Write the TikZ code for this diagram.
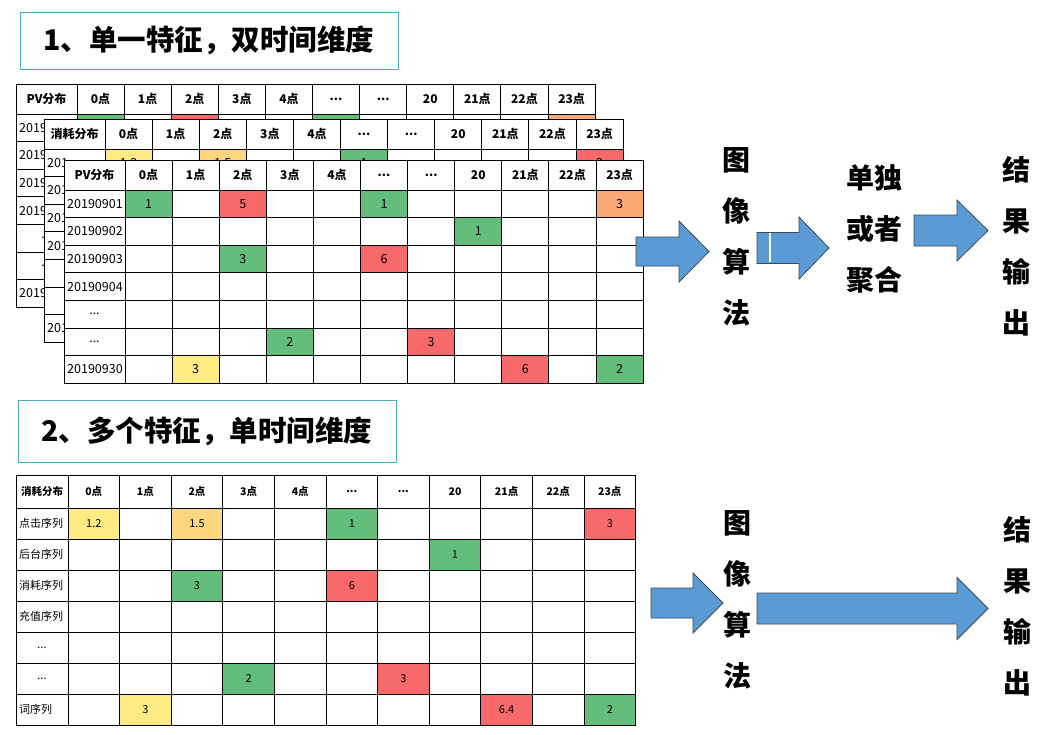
\documentclass[tikz,border=0pt]{standalone}
\usepackage{fontspec}
\setmainfont{Noto Sans CJK SC}
\definecolor{cg}{HTML}{63BE7B}
\definecolor{cr}{HTML}{F8696B}
\definecolor{cy}{HTML}{FFEB84}
\definecolor{co}{HTML}{FBAA77}
\definecolor{cl}{HTML}{FED680}
\definecolor{tealb}{HTML}{4BACC6}
\definecolor{arrowblue}{HTML}{5B9BD5}
\definecolor{arrowline}{HTML}{3B4A5A}
\newcommand{\mydots}{...}
% table drawing: #1 name, #2 x0, #3 y0, #4 header label, #5 row labels, #6 coloured cells
\newcommand{\datatable}[6]{%
\begin{scope}[shift={(#2,#3)}]
  \fill[white] (0,0) rectangle (\LW+11*\CW, \HH+7*\RH);
  \foreach \c/\r/\k/\t in {#6} {
    \fill[\k] (\LW+\c*\CW-\CW, \HH+\r*\RH-\RH) rectangle ++(\CW,\RH);
    \node[cell] (#1-c\c-\r) at (\LW+\c*\CW-0.5*\CW, \HH+\r*\RH-0.5*\RH) {\t};
  }
  \node[hdr] (#1-h0) at (0.5*\LW, 0.5*\HH) {#4};
  \foreach \h [count=\i] in {0点,1点,2点,3点,4点,{\mydots},{\mydots},20,21点,22点,23点} {
    \node[hdr] (#1-h\i) at (\LW+\i*\CW-0.5*\CW, 0.5*\HH) {\h};
  }
  \foreach \l/\a/\p [count=\i] in {#5} {
    \node[cell, anchor=\a] (#1-r\i) at (\p, \HH+\i*\RH-0.5*\RH) {\l};
  }
  \foreach \i in {1,2,3,4,5,6,7,8,9,10,11} \draw[gridline] (\LW+\i*\CW,0) -- ++(0,\HH+7*\RH);
  \draw[gridline] (\LW,0) -- ++(0,\HH+7*\RH);
  \foreach \i in {0,1,2,3,4,5,6} \draw[gridline] (0,\HH+\i*\RH) -- ++(\LW+11*\CW,0);
  \draw[gridline] (0,0) rectangle (\LW+11*\CW, \HH+7*\RH);
\end{scope}}
% block arrow: #1 x start, #2 x head base, #3 x tip, #4 y centre, #5 body half, #6 head half
\newcommand{\blockarrow}[6]{%
  \draw[barrow] (#1,#4-#5) -- (#2,#4-#5) -- (#2,#4-#6) -- (#3,#4) -- (#2,#4+#6)
    -- (#2,#4+#5) -- (#1,#4+#5) -- cycle;}
\begin{document}
\begin{tikzpicture}[x=1pt,y=-1pt,
  gridline/.style={draw=black,line width=1pt},
  barrow/.style={fill=arrowblue,draw=arrowline,line width=0.8pt,line join=miter},
  titlebox/.style={draw=tealb,line width=1pt,minimum width=378pt,minimum height=57pt,
     font=\bfseries\fontsize{28.5}{28.5}\selectfont,inner sep=0pt},
  vtext/.style={align=center,inner sep=0pt,font=\bfseries\fontsize{28}{51}\selectfont}]
\useasboundingbox (0,0) rectangle (1048,734);
\fill[white] (0,0) rectangle (1048,734);

% titles
\node[titlebox] (title1) at (209,40.5) {1、单一特征，双时间维度};
\node[titlebox, minimum height=62pt] (title2) at (207,431) {2、多个特征，单时间维度};

% top stacked tables
\def\LW{61}\def\CW{47.1}\def\HH{30}\def\RH{27.6}
\tikzset{hdr/.style={font=\bfseries\fontsize{12}{12}\selectfont,inner sep=0pt},
         cell/.style={font=\fontsize{12.5}{12.5}\selectfont,inner sep=0pt}}
\datatable{back}{16}{84}{PV分布}
  {2019/west/3,2019/west/3,2019/west/3,2019/west/3,{\mydots}/center/30.5,{\mydots}/center/30.5,2019/west/3}
  {1/1/cg/{}, 3/1/cr/{}, 6/1/cg/{}, 11/1/co/{}}
\datatable{mid}{44}{119}{消耗分布}
  {201/west/3,201/west/3,201/west/3,201/west/3,{}/west/3,{}/west/3,201/west/3}
  {1/1/cy/1.2, 3/1/cl/1.5, 6/1/cg/1, 11/1/cr/3}
\datatable{front}{64}{160}{PV分布}
  {20190901/west/3,20190902/west/3,20190903/west/3,20190904/west/3,{\mydots}/center/30.5,{\mydots}/center/30.5,20190930/west/3}
  {1/1/cg/1, 3/1/cr/5, 6/1/cg/1, 11/1/co/3, 8/2/cg/1, 3/3/cg/3, 6/3/cr/6, 4/6/cg/2, 7/6/cr/3, 2/7/cy/3, 9/7/cr/6, 11/7/cg/2}

% bottom table
\def\LW{52}\def\CW{51.6}\def\HH{33}\def\RH{31}
\tikzset{hdr/.style={font=\bfseries\fontsize{10.5}{10.5}\selectfont,inner sep=0pt},
         cell/.style={font=\fontsize{11}{11}\selectfont,inner sep=0pt}}
\datatable{bot}{16}{475}{消耗分布}
  {点击序列/west/3,后台序列/west/3,消耗序列/west/3,充值序列/west/3,{\mydots}/center/26,{\mydots}/center/26,词序列/west/3}
  {1/1/cy/1.2, 3/1/cl/1.5, 6/1/cg/1, 11/1/cr/3, 8/2/cg/1, 3/3/cg/3, 6/3/cr/6, 4/6/cg/2, 7/6/cr/3, 2/7/cy/3, 9/7/cr/6.4, 11/7/cg/2}

% top flow
\blockarrow{636}{679}{709}{251.5}{14.5}{30.5}
\node[vtext] (alg1) at (736,237) {图\\像\\算\\法};
\blockarrow{757}{799}{829}{248}{15.5}{31}
\draw[white,line width=1.5pt] (770,233) -- (770,262);
\node[vtext] (agg) at (874.5,229) {单独\\或者\\聚合};
\blockarrow{914}{957}{988}{230.5}{15.5}{30.5}
\node[vtext] (out1) at (1016,246) {结\\果\\输\\出};

% bottom flow
\blockarrow{651}{693}{723}{603}{15}{30}
\node[vtext] (alg2) at (737,600) {图\\像\\算\\法};
\blockarrow{757}{957}{988}{608.5}{15.5}{31}
\node[vtext] (out2) at (1017,606) {结\\果\\输\\出};
\end{tikzpicture}
\end{document}
